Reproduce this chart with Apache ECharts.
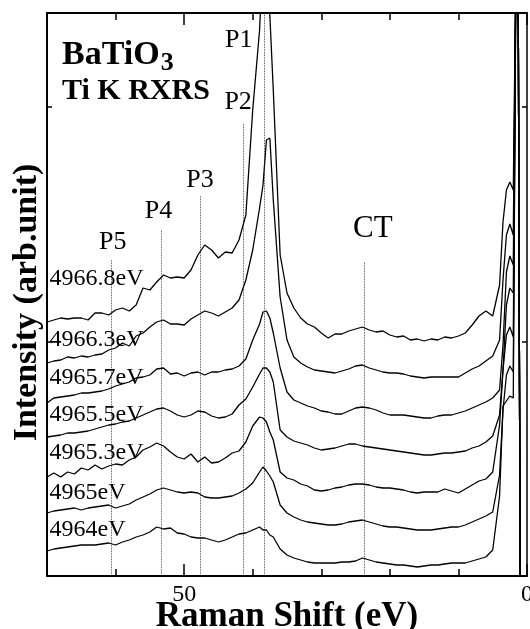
<!DOCTYPE html>
<html>
<head>
<meta charset="utf-8">
<script src="https://cdn.jsdelivr.net/npm/echarts@6.0.0/dist/echarts.min.js"></script>
<style>
html, body {margin: 0; padding: 0; background: #fff;}
#chart {width: 530px; height: 629px;}
</style>
</head>
<body>
<div id="chart"></div>
<script>
// Raman shift grid (eV), shared by all spectra
var energy = [70,69,68,67,66,65,64,63,62,61,60,59,58,57,56,55,54,53,52,51,50,49,48,47,46,45,44,43,42,41,40,39,
  38.5,38,37.5,
  37,36,35,34,33,32,31,30,29,28,27,26,25,24,23,22,21,20,19,18,17,16,15,14,13,12,11,10,9,8,7,6,5,4,
  3.5,3,2.5,2,1.6,1.3,1.0];

// offset spectra (arb. unit), top to bottom
var i4966_8 = [254,256,258,257,258,258,256,263,263,261,266,268,265,271,288,286,294,301,298,299,298,306,321,331,326,318,324,323,336,361,466,546,
  620,620,560,
  486,321,283,268,258,252,249,243,238,242,242,245,247,249,246,244,245,241,239,240,236,237,235,237,236,239,238,240,243,251,260,265,260,291,
  354,386,394,386,620,620,0];
var i4966_3 = [213,215,216,219,218,220,219,221,222,226,228,233,230,240,243,249,254,256,252,252,251,257,261,265,263,260,264,268,276,296,326,368,
  391,436,438,
  376,279,236,219,213,209,206,205,204,203,205,207,210,211,208,206,204,203,203,202,200,199,198,199,199,199,199,199,203,207,210,215,220,236,
  296,341,352,341,620,620,0];
var i4965_7 = [173,178,179,180,181,183,183,184,185,187,190,192,194,198,199,201,207,208,202,203,200,203,204,201,204,204,206,207,210,217,236,252,
  264,265,258,
  243,208,184,176,173,170,168,165,164,162,162,165,168,169,168,166,163,161,161,161,160,159,158,158,160,161,161,163,165,168,171,174,178,186,
  231,304,320,311,620,620,0];
var i4965_5 = [139,140,141,143,143,144,145,147,149,151,152,154,155,158,161,164,167,168,165,161,159,161,165,164,160,158,159,162,171,177,189,202,
  208,208,204,
  194,146,139,135,133,131,128,126,127,128,130,132,132,130,129,128,127,126,125,124,123,122,121,121,122,123,123,124,125,128,130,134,140,161,
  206,271,288,283,620,620,0];
var i4965_3 = [99,103,99,104,102,108,106,111,107,110,112,111,116,119,126,129,133,130,124,119,117,122,114,119,113,114,118,123,125,134,150,159,
  158,154,144,
  136,104,98,96,92,90,86,85,86,88,89,91,92,92,91,89,88,88,87,86,84,83,84,84,84,87,85,83,87,91,95,97,104,151,
  206,241,249,239,620,620,0];
var i4965_0 = [63,65,66,67,68,66,68,69,70,71,68,70,72,76,79,82,86,88,86,84,83,84,83,79,78,78,79,80,83,87,93,104,
  109,105,100,
  94,71,63,59,56,54,53,52,51,51,52,54,55,56,54,52,50,49,49,48,47,46,46,46,47,48,49,49,51,54,57,60,64,101,
  166,201,210,204,620,620,0];
var i4964_0 = [25,27,28,29,30,31,31,31,32,33,31,34,36,39,41,44,49,47,48,43,42,39,38,38,36,34,36,39,42,43,46,49,
  46,46,41,
  39,27,21,18,16,14,13,13,13,13,14,14,15,18,16,14,13,12,11,11,10,9,10,11,11,12,13,13,13,15,17,19,26,80,
  170,175,180,178,620,620,0];

var spectra = [i4966_8, i4966_3, i4965_7, i4965_5, i4965_3, i4965_0, i4964_0];
var spectraNames = ['4966.8eV', '4966.3eV', '4965.7eV', '4965.5eV', '4965.3eV', '4965eV', '4964eV'];

// peak markers
var peakNames = ['P1', 'P2', 'P3', 'P4', 'P5', 'CT'];
var peakShift = [38.25, 41.4, 47.7, 53.3, 60.7, 23.8];
var peakTop = [563, 452, 380, 346, 316, 314];

// layout only
var nameLevel = [297, 236, 198, 161, 123, 83, 46];
var peakLabelOffset = [[-26, 45], [-5, -4], [0, 2], [-3, -1], [2, 0], [9, -13]];

spectra.forEach(function (s, k) {
    if (s.length !== energy.length) throw new Error(spectraNames[k] + ' has ' + s.length + ' points');
});

var serif = "'Liberation Serif', 'Times New Roman', serif";
var black = '#000';

function xAxisOpt(pos, interval, tickLen, withLabel) {
    return {
        type: 'value', min: 0, max: 70, inverse: true, position: pos, interval: interval,
        axisLine: {show: interval === 10, onZero: false, lineStyle: {color: black, width: 2}},
        axisTick: {show: true, inside: true, length: tickLen, lineStyle: {color: black, width: 1.5}},
        axisLabel: withLabel ? {
            show: true, color: black, fontFamily: serif, fontSize: 24, margin: 7,
            formatter: function (v) { return v % 50 === 0 ? String(v) : ''; }
        } : {show: false},
        splitLine: {show: false}
    };
}

function yAxisOpt(pos, width) {
    return {
        type: 'value', min: 0, max: 563, interval: 234.5, position: pos,
        axisLine: {show: true, onZero: false, lineStyle: {color: black, width: width}},
        axisTick: {show: true, inside: true, length: 5, lineStyle: {color: black, width: 1.5}},
        axisLabel: {show: false},
        splitLine: {show: false}
    };
}

var xBottomLabels = xAxisOpt('bottom', 50, 12, true);
xBottomLabels.name = 'Raman Shift (eV)';
xBottomLabels.nameLocation = 'middle';
xBottomLabels.nameGap = 23;
xBottomLabels.nameMoveOverlap = false;
xBottomLabels.nameTextStyle = {fontFamily: serif, fontWeight: 'bold', fontSize: 35, color: black};

var yLeft = yAxisOpt('left', 2);
yLeft.name = 'Intensity (arb.unit)';
yLeft.nameLocation = 'middle';
yLeft.nameGap = 3;
yLeft.nameTextStyle = {fontFamily: serif, fontWeight: 'bold', fontSize: 34, color: black, padding: [0, 16, 0, 0]};

var series = spectra.map(function (vals, k) {
    var s = {
        type: 'line',
        name: spectraNames[k],
        xAxisIndex: 0,
        yAxisIndex: 0,
        data: energy.map(function (e, i) { return [e, vals[i]]; }),
        symbol: 'none',
        silent: true,
        lineStyle: {color: black, width: 1.3},
        markPoint: {
            silent: true,
            symbol: 'circle',
            symbolSize: 1,
            itemStyle: {color: 'rgba(0,0,0,0)'},
            data: [{
                coord: [69.7, nameLevel[k]],
                label: {
                    show: true, position: 'right', distance: 0,
                    formatter: spectraNames[k],
                    color: black, fontFamily: serif, fontSize: 24
                }
            }]
        }
    };
    if (k === 0) {
        s.markLine = {
            silent: true,
            symbol: ['none', 'none'],
            lineStyle: {color: '#222', width: 0.8, type: 'dotted'},
            data: peakNames.map(function (n, j) {
                return [{
                    coord: [peakShift[j], 0],
                    label: {
                        show: true, position: 'end', formatter: n,
                        color: black, fontFamily: serif,
                        fontSize: n === 'CT' ? 31 : 26,
                        offset: peakLabelOffset[j]
                    }
                }, {coord: [peakShift[j], peakTop[j]]}];
            })
        };
    }
    return s;
});

// put the subscript right after the measured formula text
var titleFont = 'bold 34px ' + serif;
var ctx = document.createElement('canvas').getContext('2d');
ctx.font = titleFont;
var formulaWidth = ctx.measureText('BaTiO').width;

var chart = echarts.init(document.getElementById('chart'));
chart.setOption({
    animation: false,
    backgroundColor: '#fff',
    grid: {left: 47, right: 3, top: 13, bottom: 53, outerBoundsMode: 'none'},
    xAxis: [
        xAxisOpt('bottom', 10, 7, false),
        xAxisOpt('top', 10, 7, false),
        xBottomLabels,
        xAxisOpt('top', 50, 12, false)
    ],
    yAxis: [yLeft, yAxisOpt('right', 1.5)],
    graphic: [
        {type: 'text', x: 62, y: 55, style: {text: 'BaTiO', font: titleFont, fill: black,
            verticalAlign: 'middle', textVerticalAlign: 'middle'}},
        {type: 'text', x: 62 + formulaWidth + 1, y: 63, style: {text: '3', font: 'bold 26px ' + serif, fill: black,
            verticalAlign: 'middle', textVerticalAlign: 'middle'}},
        {type: 'text', x: 62, y: 91, style: {text: 'Ti K RXRS', font: 'bold 30px ' + serif, fill: black,
            verticalAlign: 'middle', textVerticalAlign: 'middle'}}
    ],
    series: series
});
</script>
</body>
</html>
